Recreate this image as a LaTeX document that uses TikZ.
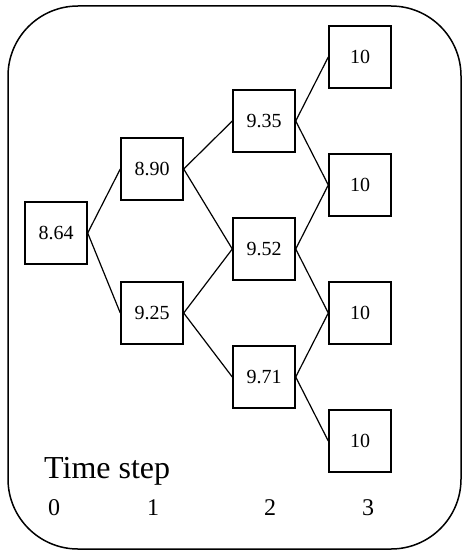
\documentclass[tikz,border=0pt]{standalone}
\usepackage{fontspec}
\setmainfont{Liberation Serif}
\usepackage{tikz}

\begin{document}
\begin{tikzpicture}[x = 1pt, y = -1pt,
        price/.style = {draw, line width = 1.4pt, minimum size = 62pt,
                        inner sep = 0pt, font = \fontsize{20}{24}\selectfont},
        branch/.style = {line width = 1.2pt}]
        \useasboundingbox (0,0) rectangle (462,551);
        \draw[line width = 1.5pt, rounded corners = 70pt] (8,6) rectangle (461,549);

        \node[price] (s0) at (56,233) {8.64};
        \node[price] (u1) at (152,169) {8.90};
        \node[price] (d1) at (152,313) {9.25};
        \node[price] (uu2) at (264,121) {9.35};
        \node[price] (ud2) at (264,249) {9.52};
        \node[price] (dd2) at (264,377) {9.71};
        \node[price] (e1) at (360,57) {10};
        \node[price] (e2) at (360,185) {10};
        \node[price] (e3) at (360,313) {10};
        \node[price] (e4) at (360,441) {10};

        \draw[branch] (s0.east) -- (u1.west);
        \draw[branch] (s0.east) -- (d1.west);
        \draw[branch] (u1.east) -- (uu2.west);
        \draw[branch] (u1.east) -- (ud2.west);
        \draw[branch] (d1.east) -- (ud2.west);
        \draw[branch] (d1.east) -- (dd2.west);
        \draw[branch] (uu2.east) -- (e1.west);
        \draw[branch] (uu2.east) -- (e2.west);
        \draw[branch] (ud2.east) -- (e2.west);
        \draw[branch] (ud2.east) -- (e3.west);
        \draw[branch] (dd2.east) -- (e3.west);
        \draw[branch] (dd2.east) -- (e4.west);

        \node[anchor = base west, inner sep = 0pt,
              font = \fontsize{32}{38}\selectfont] (title) at (44,478) {Time step};
        \node[anchor = base, inner sep = 0pt,
              font = \fontsize{24}{29}\selectfont] (t0) at (54,515) {0};
        \node[anchor = base, inner sep = 0pt,
              font = \fontsize{24}{29}\selectfont] (t1) at (153,515) {1};
        \node[anchor = base, inner sep = 0pt,
              font = \fontsize{24}{29}\selectfont] (t2) at (270,515) {2};
        \node[anchor = base, inner sep = 0pt,
              font = \fontsize{24}{29}\selectfont] (t3) at (368,515) {3};
\end{tikzpicture}
\end{document}
